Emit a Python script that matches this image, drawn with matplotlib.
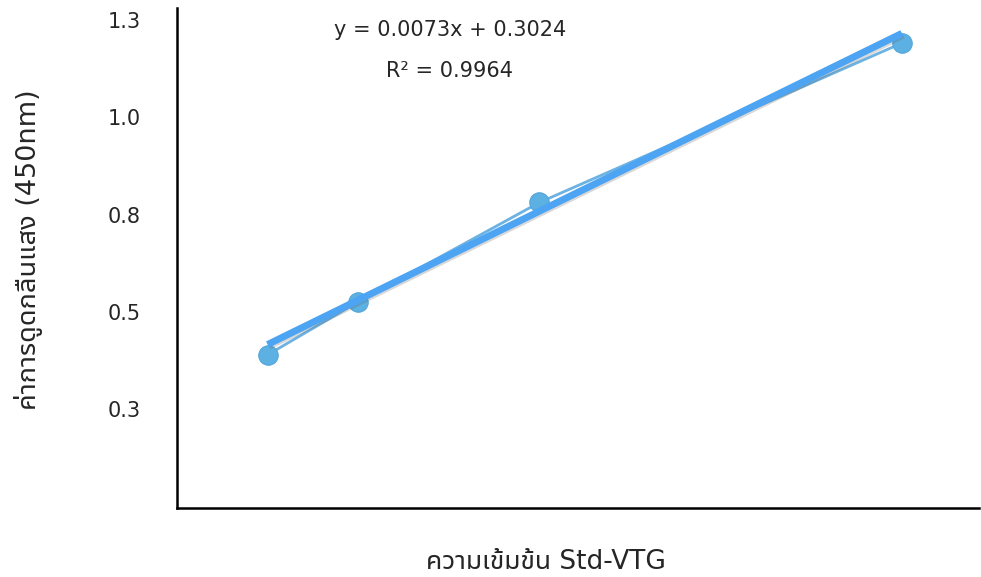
import numpy as np
import matplotlib
matplotlib.use("Agg")
import matplotlib.pyplot as plt
import matplotlib.patheffects as pe
from matplotlib import font_manager, ft2font

# Std-VTG standard curve (serial dilution) and measured absorbance at 450 nm
concentration = [15.625, 31.25, 62.5, 125.0]
absorbance = [0.390, 0.526, 0.781, 1.190]

# linear trendline reported on the chart
slope = 0.0073
intercept = 0.3024
r_squared = 0.9964

y_ticks = [0.25, 0.5, 0.75, 1.0, 1.25]
y_tick_labels = ["0.3", "0.5", "0.8", "1.0", "1.3"]

x_label = "ความเข้มข้น Std-VTG"
y_label = "ค่าการดูดกลืนแสง (450nm)"

PREFERRED_THAI = ["Noto Sans Thai UI", "Noto Sans Thai", "Loma", "Garuda", "Waree",
                  "Umpush", "Sawasdee", "Kinnari", "Norasi", "Laksaman", "Purisa"]
AVOID = ("mono", "unifont", "typewriter", "typist", "typo", "code", "fixed")


def thai_font():
    """Pick an installed proportional family that carries Thai glyphs."""
    found = []
    for path in font_manager.findSystemFonts():
        try:
            font = ft2font.FT2Font(path)
            if 0x0E01 in font.get_charmap():
                name = font_manager.FontProperties(fname=path).get_name()
                if name not in found:
                    found.append(name)
        except Exception:
            continue
    for name in PREFERRED_THAI:
        if name in found:
            return [name]
    usable = [n for n in found if not any(a in n.lower() for a in AVOID)]
    return usable[:1] or found[:1]


plt.rcParams["font.family"] = ["DejaVu Sans"]
thai_family = ["DejaVu Sans"] + thai_font()

text_color = "#262626"

fig = plt.figure(figsize=(9.81, 5.77), dpi=100)
ax = fig.add_axes([177 / 981, 69 / 577, 802 / 981, 500 / 577])

# measured points joined by a thin line
ax.plot(concentration, absorbance, color="#6cb2e2", lw=2.0, zorder=2,
        solid_capstyle="round")
ax.plot(concentration, absorbance, "o", ms=14, color="#5cb0e2",
        markeredgecolor="#54a6da", markeredgewidth=0.8, zorder=3)

# fitted trendline across the measured range
x_fit = np.array([min(concentration), max(concentration)])
y_fit = slope * x_fit + intercept
ax.plot(x_fit, y_fit, color="#4ca4f2", lw=5, zorder=4, solid_capstyle="butt",
        path_effects=[pe.SimpleLineShadow(offset=(1.0, -1.2), shadow_color="#666666",
                                          alpha=0.25), pe.Normal()])

ax.set_xlim(0, 138.3)
ax.set_ylim(-0.003, 1.28)

ax.set_xticks([])
ax.set_yticks(y_ticks)
ax.set_yticklabels(y_tick_labels)
ax.tick_params(axis="y", length=0, pad=26, labelsize=15, labelcolor=text_color)

for side in ("top", "right"):
    ax.spines[side].set_visible(False)
for side in ("left", "bottom"):
    ax.spines[side].set_linewidth(1.8)
    ax.spines[side].set_color("black")

fig.text(450 / 981, 1 - 30 / 577, f"y = {slope:.4f}x + {intercept:.4f}",
         ha="center", va="center", fontsize=15, color=text_color)
fig.text(450 / 981, 1 - 71 / 577, f"R² = {r_squared:.4f}",
         ha="center", va="center", fontsize=15, color=text_color)

fig.text(546 / 981, 1 - 562 / 577, x_label, ha="center", va="center",
         fontsize=19, color=text_color, family=thai_family)
fig.text(29 / 981, 1 - 250 / 577, y_label, ha="center", va="center",
         rotation=90, fontsize=19.5, color=text_color, family=thai_family)

fig.savefig("out.png", dpi=100, facecolor="white")
